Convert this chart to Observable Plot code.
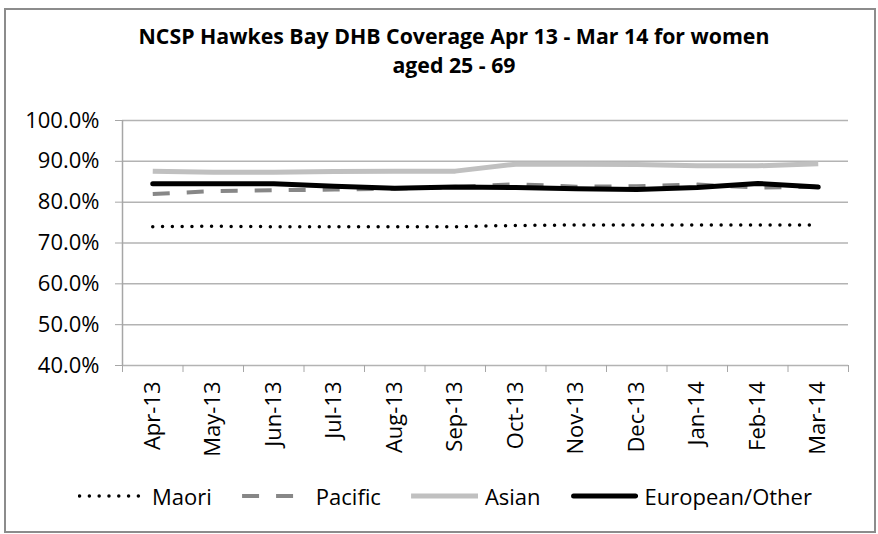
<!DOCTYPE html>
<html><head><meta charset="utf-8">
<script src="https://cdn.jsdelivr.net/npm/d3@7"></script>
<script src="https://cdn.jsdelivr.net/npm/@observablehq/plot@0.6"></script>
<style>
body{margin:0;background:#fff;font-family:"Open Sans",sans-serif;color:#000;}
#frame{position:absolute;left:4px;top:8px;width:872px;height:525px;box-sizing:border-box;border:2px solid #8c8c8c;}
#title{position:absolute;left:454px;top:21px;transform:translateX(-50%);text-align:center;font-weight:bold;font-size:21.3px;line-height:29px;white-space:nowrap;}
#chart{position:absolute;left:0;top:100px;}
#legend{position:absolute;left:445px;top:482px;transform:translateX(-50%);display:flex;align-items:center;white-space:nowrap;font-size:22px;line-height:28px;}
#legend .item{display:flex;align-items:center;margin:0 15px;}
#legend svg{margin-right:7px;}
</style></head>
<body>
<div id="frame"></div>
<div id="title">NCSP Hawkes Bay DHB Coverage Apr 13 - Mar 14 for women<br>aged 25 - 69</div>
<div id="chart"></div>
<div id="legend"></div>
<script>
const months = ["Apr-13","May-13","Jun-13","Jul-13","Aug-13","Sep-13","Oct-13","Nov-13","Dec-13","Jan-14","Feb-14","Mar-14"];
const maori    = [0.740,0.741,0.740,0.740,0.740,0.740,0.743,0.744,0.744,0.744,0.744,0.744];
const pacific  = [0.820,0.827,0.829,0.831,0.833,0.837,0.844,0.838,0.839,0.843,0.836,0.838];
const asian    = [0.876,0.873,0.873,0.875,0.876,0.876,0.893,0.893,0.892,0.889,0.889,0.894];
const european = [0.845,0.845,0.845,0.839,0.834,0.837,0.836,0.833,0.831,0.836,0.846,0.837];
const yTicks = [0.4,0.5,0.6,0.7,0.8,0.9,1.0];

const series = [
  {name:"Maori", values:maori, stroke:"#000", width:3.5, dash:"0 9.8", cap:"round"},
  {name:"Pacific", values:pacific, stroke:"#878787", width:4, dash:"17 17", cap:"butt"},
  {name:"Asian", values:asian, stroke:"#c0c0c0", width:5, dash:null, cap:"butt"},
  {name:"European/Other", values:european, stroke:"#000", width:5, dash:null, cap:"round"}
];
const idx = months.map((m,i)=>i);
const bounds = [-0.5, ...idx.map(i=>i+0.5)];

const axisColor = "#a6a6a6";
const plot = Plot.plot({
  width: 878, height: 360,
  marginLeft: 122, marginRight: 30, marginTop: 20, marginBottom: 95,
  style: {fontFamily: '"Open Sans", sans-serif', fontSize: "22px", color:"#000", background:"transparent"},
  x: {type:"linear", domain:[-0.5, months.length-0.5], axis:null},
  y: {domain:[0.4, 1.0], axis:null},
  marks: [
    Plot.gridY(yTicks, {stroke:"#b3b3b3", strokeOpacity:1, strokeWidth:1.5}),
    Plot.ruleX([-0.5], {stroke:axisColor, strokeWidth:1.5}),
    Plot.axisY(yTicks, {tickFormat:d3.format(".1%"), tickSize:7, tickPadding:16, stroke:axisColor, strokeOpacity:1, fill:"#000", fontSize:22}),
    Plot.axisX(bounds, {tickFormat:()=>"", tickSize:7, stroke:axisColor, strokeOpacity:1, label:null}),
    Plot.axisX(idx, {tickFormat:i=>months[i], tickSize:0, tickPadding:16, tickRotate:-90, fill:"#000", fontSize:22, label:null}),
    ...series.map(s => Plot.line(s.values, {x:(d,i)=>i, y:d=>d, stroke:s.stroke, strokeWidth:s.width, strokeDasharray:s.dash, strokeLinecap:s.cap, strokeLinejoin:"round"}))
  ]
});
document.getElementById("chart").appendChild(plot);

const legend = document.getElementById("legend");
for (const s of series) {
  const item = document.createElement("div");
  item.className = "item";
  const svg = d3.create("svg").attr("width",67).attr("height",10);
  svg.append("line").attr("x1", s.cap==="round" && s.dash ? 1.5 : (s.cap==="round"?2.5:0)).attr("x2", s.cap==="round" && !s.dash ? 64.5 : 67)
    .attr("y1",5).attr("y2",5).attr("stroke",s.stroke).attr("stroke-width",s.width)
    .attr("stroke-dasharray",s.dash).attr("stroke-linecap",s.cap);
  item.appendChild(svg.node());
  const t = document.createElement("span");
  t.textContent = s.name;
  item.appendChild(t);
  legend.appendChild(item);
}
</script>
</body></html>
